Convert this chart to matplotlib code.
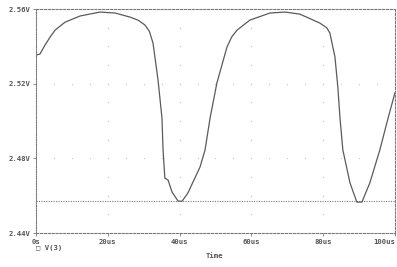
import numpy as np
import matplotlib
matplotlib.use('Agg')
import matplotlib.pyplot as plt

# V(3) trace (time in us, volts)
t_us = [0, 1.1, 2.5, 4.0, 5.3, 8.1, 12.3, 17.8, 22.0, 26.2, 28.5, 30.4, 31.6,
        32.6, 34.0, 35.1, 35.4, 35.9, 36.8, 37.9, 39.6, 40.7, 42.3, 45.7, 47.1,
        48.5, 50.4, 53.2, 54.5, 56.0, 59.6, 65.2, 69.4, 73.5, 79.1, 81.0, 81.9,
        83.3, 84.1, 84.7, 85.5, 87.5, 89.4, 90.8, 93.0, 95.8, 98.1, 100]
v3 = [2.5354, 2.5359, 2.5407, 2.5452, 2.5487, 2.5530, 2.5563, 2.5584, 2.5579,
      2.5557, 2.5540, 2.5514, 2.5480, 2.5418, 2.5220, 2.5016, 2.4845, 2.4695,
      2.4684, 2.4620, 2.4571, 2.4571, 2.4614, 2.4754, 2.4845, 2.5016, 2.5204,
      2.5396, 2.5450, 2.5487, 2.5541, 2.5579, 2.5584, 2.5573, 2.5525, 2.5500,
      2.5471, 2.5343, 2.5182, 2.5016, 2.4845, 2.4668, 2.4566, 2.4566, 2.4668,
      2.4845, 2.5016, 2.515]
cursor_v = 2.4571

x_ticks = [0, 20, 40, 60, 80, 100]
x_labels = ['0s', '20us', '40us', '60us', '80us', '100us']
y_ticks = [2.44, 2.48, 2.52, 2.56]
y_labels = ['2.44V', '2.48V', '2.52V', '2.56V']

grey = '#7a7a7a'
fig = plt.figure(figsize=(3.97, 2.67), dpi=100)
ax = fig.add_axes([0.0907, 0.127, 0.904, 0.839])
ax.set_xlim(0, 100)
ax.set_ylim(2.44, 2.56)

# dotted grid points like pspice
for xv in x_ticks[1:-1]:
    yy = np.arange(2.45, 2.555, 0.01)
    ax.plot([xv] * len(yy), yy, ls='none', marker='s', ms=0.8, color='#c8c8c8', mec='none')
for yv in y_ticks[1:-1]:
    xx = np.arange(5, 100, 5)
    ax.plot(xx, [yv] * len(xx), ls='none', marker='s', ms=0.8, color='#c8c8c8', mec='none')

ax.axhline(cursor_v, color=grey, ls=(0, (1, 1.2)), lw=0.8)
ax.plot(t_us, v3, color='#5a5a5a', lw=0.9)

for side in ['top', 'bottom', 'right']:
    ax.spines[side].set_linestyle((0, (2, 1.5)))
ax.spines['left'].set_linestyle((0, (1, 1.2)))
for s in ax.spines.values():
    s.set_color(grey)
    s.set_linewidth(0.8)

fnt = dict(family='DejaVu Sans Mono', weight='bold', size=5.2, color='#555555')
ax.set_xticks(x_ticks)
ax.set_xticklabels(x_labels, **fnt)
ax.get_xticklabels()[-1].set_ha('right')
ax.get_xticklabels()[-1].set_x(99.5)
ax.set_yticks(y_ticks)
ax.set_yticklabels(y_labels, **fnt)
ax.tick_params(length=2, width=0.6, color=grey, pad=2)

fig.text(0.54, 0.04, 'Time', ha='center', va='center', **fnt)
fig.text(0.09, 0.072, '\u25a1 V(3)', ha='left', va='center', **fnt)

fig.savefig('out.png', dpi=100)
